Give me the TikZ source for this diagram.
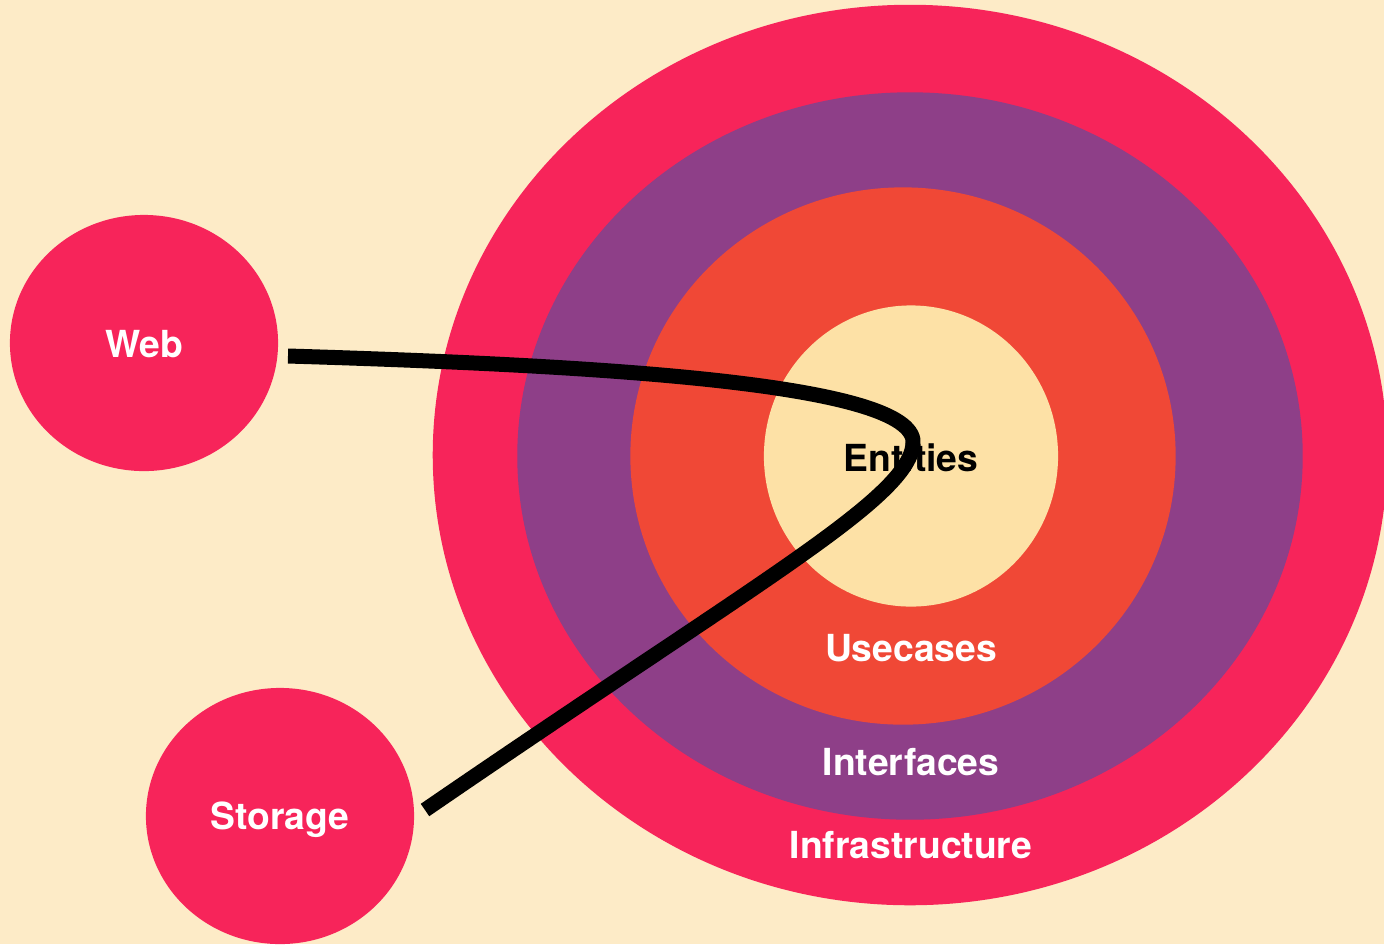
\documentclass[tikz,border=0pt]{standalone}
\usepackage{fontspec}
\setmainfont{TeX Gyre Heros}
\usetikzlibrary{shapes.geometric}

\definecolor{bgcream}{HTML}{FDEBC7}
\definecolor{hotpink}{HTML}{F7245A}
\definecolor{plum}{HTML}{8E3F88}
\definecolor{tomato}{HTML}{F04836}
\definecolor{corecream}{HTML}{FDE1A6}

\begin{document}
\begin{tikzpicture}[
            x = 0.01cm, y = -0.01cm, % pixel grid, y going down
            ring/.style = {ellipse, inner sep = 0pt, draw = none},
            label/.style = {font = \fontsize{10.6}{12}\selectfont\bfseries, text = white},
            wire/.style = {line width = 0.15cm, black}
        ]

        \fill[bgcream] (0,0) rectangle (1384,944);
        \useasboundingbox (0,0) rectangle (1384,944);

        % the onion
        \node[ring, fill = hotpink, minimum width = 9.54cm, minimum height = 9.0cm] (infra) at (910,455) {};
        \node[ring, fill = plum, minimum width = 7.85cm, minimum height = 7.27cm] (iface) at (910,456) {};
        \node[ring, fill = tomato, minimum width = 5.45cm, minimum height = 5.37cm] (usecase) at (903,456) {};
        \node[ring, fill = corecream, minimum width = 2.94cm, minimum height = 3.01cm] (entity) at (911,456) {};

        % outer world
        \node[ring, fill = hotpink, minimum width = 2.68cm, minimum height = 2.56cm] (web) at (144,343) {};
        \node[ring, fill = hotpink, minimum width = 2.68cm, minimum height = 2.56cm] (storage) at (280,816) {};

        % the dependency line
        \coordinate (webend) at (288,356);
        \coordinate (turn) at (913,445);
        \coordinate (storeend) at (425,810);
        \draw[wire] (webend) .. controls (620,366) and (922,385) .. (turn)
                    .. controls (906,500) and (760,580) .. (storeend);

        % texts
        \node[label, text = black] (entitytext) at (911,458) {Entities};
        \node[label] (usecasetext) at (911,648) {Usecases};
        \node[label] (ifacetext) at (911,762) {Interfaces};
        \node[label] (infratext) at (911,845) {Infrastructure};
        \node[label] (webtext) at (144,344) {Web};
        \node[label] (storagetext) at (280,820) {Storage};
    \end{tikzpicture}
\end{document}
